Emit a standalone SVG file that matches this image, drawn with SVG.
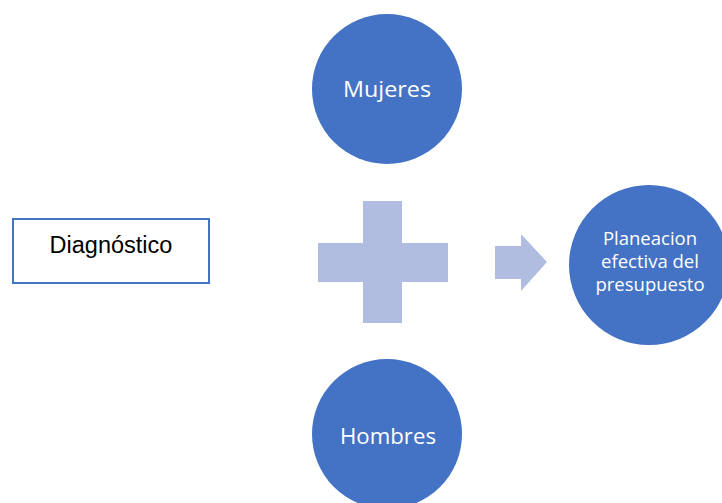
<svg xmlns="http://www.w3.org/2000/svg" width="722" height="503" viewBox="0 0 722 503">
<style>
.c{fill:#4472C4}
.t{fill:#fff;font-family:"Open Sans","Noto Sans",sans-serif;text-anchor:middle}
.s{fill:#B0BDE0}
</style>
<rect width="722" height="503" fill="#fff"/>
<g id="diagnostico">
<rect x="13" y="219" width="196" height="64" fill="#fff" stroke="#4472C4" stroke-width="2"/>
<text x="111" y="253" font-family="Liberation Sans,Arial,sans-serif" font-size="23.5" text-anchor="middle" fill="#000">Diagnóstico</text>
</g>
<g id="mujeres">
<circle class="c" cx="387" cy="89" r="75"/>
<text class="t" x="387" y="97" font-size="22" textLength="88" lengthAdjust="spacingAndGlyphs">Mujeres</text>
</g>
<g id="hombres">
<circle class="c" cx="387" cy="434" r="75"/>
<text class="t" x="388" y="444" font-size="22" textLength="96" lengthAdjust="spacingAndGlyphs">Hombres</text>
</g>
<g id="planeacion">
<circle class="c" cx="649" cy="265" r="80"/>
<text class="t" font-size="18.5"><tspan x="650" y="245">Planeacion</tspan><tspan x="650" y="268">efectiva del</tspan><tspan x="650" y="291">presupuesto</tspan></text>
</g>
<g id="connectors">
<path class="s" d="M363 201H402V243H448V282H402V323H363V282H318V243H363Z"/>
<path class="s" d="M495 246H521V234L547 262L521 291V279H495Z"/>
</g>
</svg>
